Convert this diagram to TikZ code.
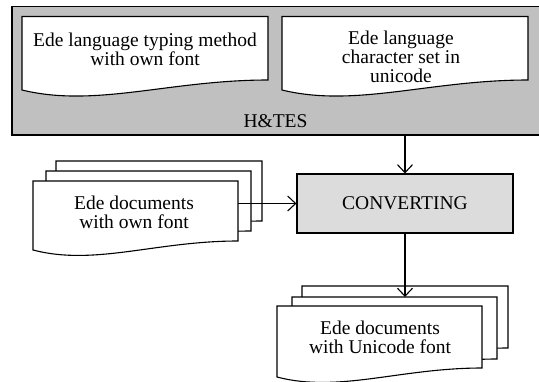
\documentclass[tikz,border=0pt]{standalone}
\usepackage{fontspec}
\setmainfont{Liberation Serif}
\usetikzlibrary{arrows.meta,calc}
\definecolor{outergray}{HTML}{C0C0C0}
\definecolor{convgray}{HTML}{DCDCDC}
\tikzset{
  docframe/.style={inner sep=0pt, outer sep=0pt, draw=none},
  docline/.style={draw=black, fill=white, line width=1.1pt, line join=miter},
  lbl/.style={inner sep=0pt, align=center, font=\fontsize{19.5}{19}\selectfont},
  arr/.style={draw=black, line width=1.1pt, -{Straight Barb[length=8pt,width=15pt,line width=1.1pt]}},
  hbox/.style={draw=black, fill=outergray, line width=1.1pt, inner sep=0pt},
  cbox/.style={draw=black, fill=convgray, line width=1.1pt, inner sep=0pt, font=\fontsize{19.5}{19}\selectfont}
}
\newcommand{\docshp}[6]{% name, x0, ytop, x1, yR, yL
  \pgfmathsetmacro{\dsCX}{(#2+#4)/2}%
  \pgfmathsetmacro{\dsCY}{(#3+#5)/2}%
  \pgfmathsetmacro{\dsW}{#4-#2}%
  \pgfmathsetmacro{\dsH}{#5-#3}%
  \pgfmathsetmacro{\dsXa}{#2+0.6*\dsW}%
  \pgfmathsetmacro{\dsXb}{#2+0.3*\dsW}%
  \pgfmathsetmacro{\dsYb}{#6+1.8*(#6-#5)}%
  \node[docframe, minimum width=\dsW pt, minimum height=\dsH pt] (#1) at (\dsCX,\dsCY) {};
  \filldraw[docline] (#2,#3) -- (#4,#3) -- (#4,#5) .. controls (\dsXa,#5) and (\dsXb,\dsYb) .. (#2,#6) -- cycle;
}
\begin{document}
\begin{tikzpicture}[x=1pt,y=-1pt]
\useasboundingbox (0,0) rectangle (539,381);
% outer H&TES box
\node[hbox, minimum width=528pt, minimum height=128.5pt] (hts) at (276,70.75) {};
\docshp{doca}{22}{16.5}{268}{80}{90}
\docshp{docb}{282}{16.5}{528}{80}{90}
\node[lbl] (ta) at (145,49) {Ede language typing method\\with own font};
\node[lbl] (tb) at (401,56.5) {Ede language\\character set in\\unicode};
\node[lbl] (thts) at (275.5,121.5) {H\&TES};
% left stack
\docshp{lback}{56}{161}{262}{221}{230}
\docshp{lmid}{46}{171}{251}{231}{240}
\docshp{lfront}{33}{181}{238}{241}{250}
\node[lbl] (tl) at (134,212) {Ede documents\\with own font};
% converting
\node[cbox, minimum width=216pt, minimum height=59pt] (conv) at (405,203.5) {CONVERTING};
% bottom stack
\docshp{bback}{302}{286}{508}{348}{357}
\docshp{bmid}{292}{297}{497}{359}{368}
\docshp{bfront}{277}{306}{482}{368}{377}
\node[lbl] (tbo) at (380,337) {Ede documents\\with Unicode font};
% connectors
\draw[arr] (hts.south -| conv.north) -- (conv.north);
\draw[arr] (conv.west -| lfront.east) -- (conv.west);
\draw[arr] (conv.south) -- (conv.south |- bmid.north);
\end{tikzpicture}
\end{document}
